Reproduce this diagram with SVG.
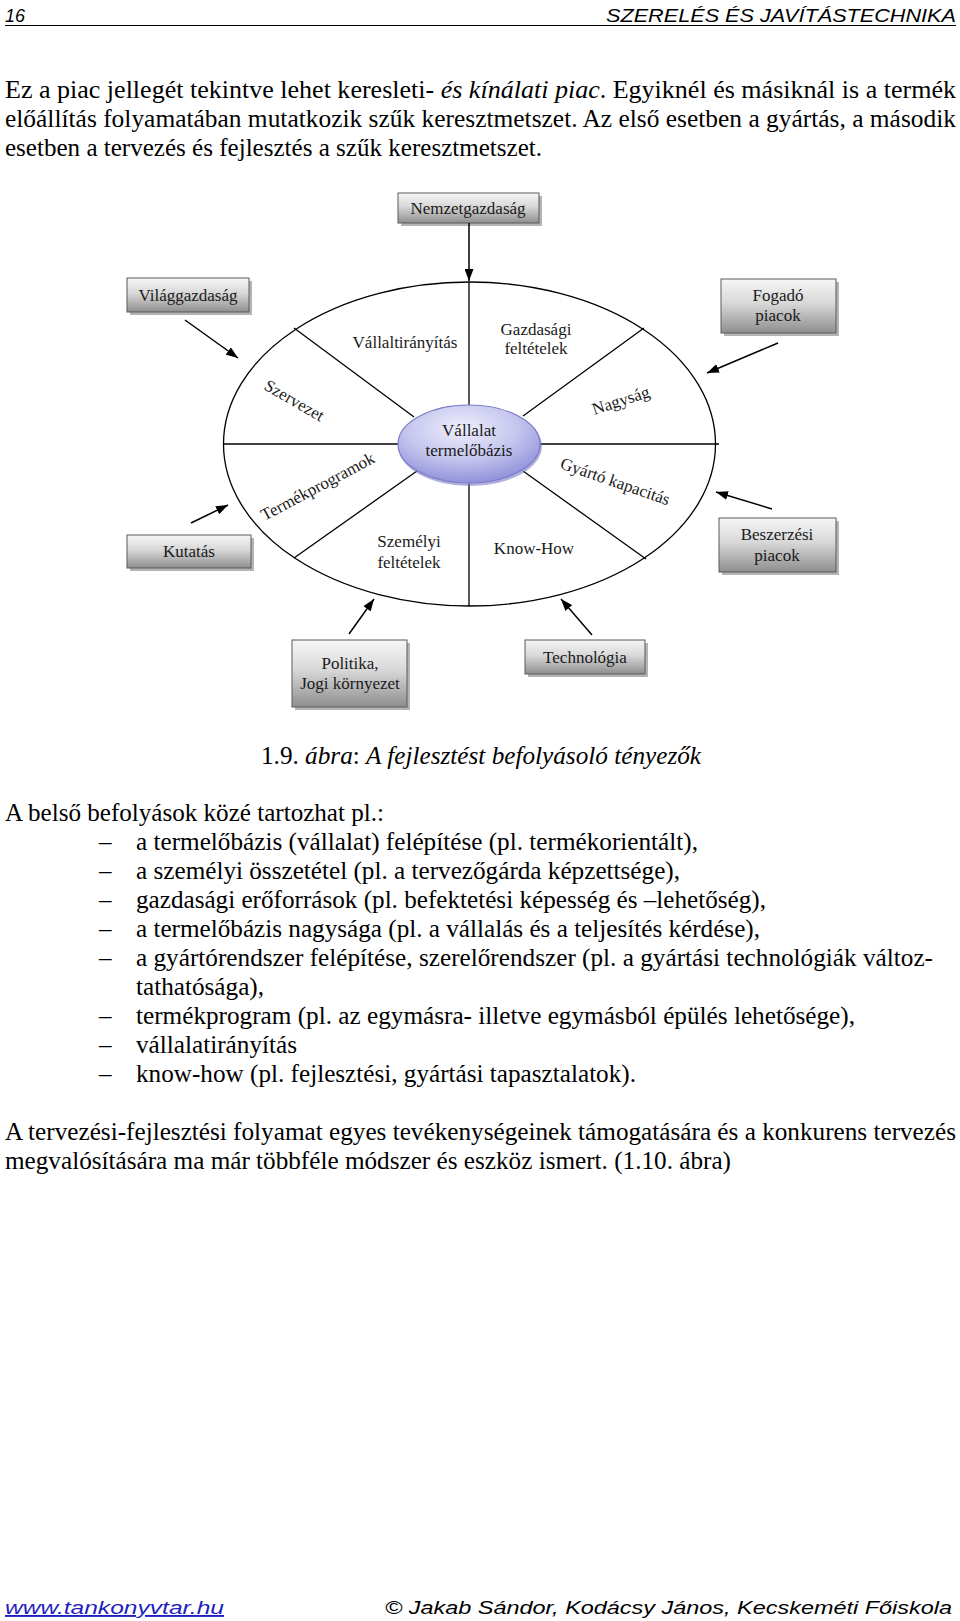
<svg xmlns="http://www.w3.org/2000/svg" width="960" height="1621" viewBox="0 0 960 1621">
<style>
.hdr{font-family:"Liberation Sans",Arial,sans-serif;font-style:italic;font-size:18px;fill:#000}
.body{font-family:"Liberation Serif","Times New Roman",serif;font-size:25px;fill:#000}
.it{font-style:italic}
.lbl{font-family:"Liberation Serif","Times New Roman",serif;font-size:17px;fill:#1a1a1a;text-anchor:middle}
.box{fill:url(#boxg);stroke:#5a5a5a;stroke-width:1}
.shd{fill:#b4b4b4}
.ln{stroke:#000;stroke-width:1.3;fill:none}
.arr{stroke:#000;stroke-width:1.5;fill:none;marker-end:url(#ah)}
.foot{font-family:"Liberation Sans",Arial,sans-serif;font-style:italic;font-size:19px}
</style>
<defs>
<linearGradient id="boxg" x1="0" y1="0" x2="0" y2="1">
<stop offset="0" stop-color="#f6f6f6"/>
<stop offset="0.45" stop-color="#d8d8d8"/>
<stop offset="1" stop-color="#8e8e8e"/>
</linearGradient>
<radialGradient id="cg" cx="0.45" cy="0.3" r="0.8">
<stop offset="0" stop-color="#eeeefc"/>
<stop offset="0.5" stop-color="#c4c4ee"/>
<stop offset="1" stop-color="#8080d4"/>
</radialGradient>
<marker id="ah" viewBox="0 0 12 9" markerWidth="12" markerHeight="9" refX="12" refY="4.5" orient="auto" markerUnits="userSpaceOnUse">
<path d="M0,0 L12,4.5 L0,9 z" fill="#000"/>
</marker>
</defs>
<rect width="960" height="1621" fill="#fff"/>

<g id="header">
<text class="hdr" x="5" y="22">16</text>
<text class="hdr" x="956" y="22" text-anchor="end" textLength="350" lengthAdjust="spacingAndGlyphs">SZERELÉS ÉS JAVÍTÁSTECHNIKA</text>
<line x1="5" y1="25.5" x2="956" y2="25.5" stroke="#000" stroke-width="1"/>
</g>

<g id="para1" class="body">
<text x="5" y="98" textLength="951" lengthAdjust="spacingAndGlyphs">Ez a piac jellegét tekintve lehet keresleti- <tspan class="it">és kínálati piac</tspan>. Egyiknél és másiknál is a termék</text>
<text x="5" y="127" textLength="951" lengthAdjust="spacingAndGlyphs">előállítás folyamatában mutatkozik szűk keresztmetszet. Az első esetben a gyártás, a második</text>
<text x="5" y="156" textLength="537" lengthAdjust="spacingAndGlyphs">esetben a tervezés és fejlesztés a szűk keresztmetszet.</text>
</g>

<g id="wheel">
<ellipse cx="469.5" cy="444" rx="246" ry="162" class="ln"/>
<line class="ln" x1="469" y1="282" x2="469" y2="405"/>
<line class="ln" x1="469" y1="483" x2="469" y2="606"/>
<line class="ln" x1="223" y1="444" x2="398" y2="444"/>
<line class="ln" x1="540" y1="444" x2="719" y2="444"/>
<line class="ln" x1="294" y1="328" x2="414" y2="417"/>
<line class="ln" x1="644" y1="328" x2="523" y2="416"/>
<line class="ln" x1="294" y1="558" x2="417" y2="471"/>
<line class="ln" x1="646" y1="559" x2="523" y2="471"/>
<text class="lbl" x="405" y="348">Vállaltirányítás</text>
<text class="lbl" x="536" y="335">Gazdasági</text>
<text class="lbl" x="536" y="354">feltételek</text>
<text class="lbl" transform="translate(294,401) rotate(30)" y="5">Szervezet</text>
<text class="lbl" transform="translate(621,401) rotate(-18)" y="5">Nagyság</text>
<text class="lbl" transform="translate(318,487) rotate(-28)" y="5">Termékprogramok</text>
<text class="lbl" transform="translate(615,482) rotate(19)" y="5">Gyártó kapacitás</text>
<text class="lbl" x="409" y="547">Személyi</text>
<text class="lbl" x="409" y="568">feltételek</text>
<text class="lbl" x="534" y="554">Know-How</text>
</g>

<g id="center">
<ellipse cx="470" cy="446" rx="72" ry="40" fill="#7a7ac4" opacity="0.6"/>
<ellipse cx="469" cy="444" rx="71" ry="39" fill="url(#cg)" stroke="#7c7cc8" stroke-width="1.2"/>
<text class="lbl" x="469" y="436">Vállalat</text>
<text class="lbl" x="469" y="456">termelőbázis</text>
</g>

<g id="n-nemzetgazdasag">
<rect class="shd" x="401" y="196" width="141" height="30"/>
<rect class="box" x="398" y="193" width="141" height="30"/>
<text class="lbl" x="468" y="214">Nemzetgazdaság</text>
</g>
<g id="n-vilaggazdasag">
<rect class="shd" x="130" y="281" width="122" height="34"/>
<rect class="box" x="127" y="278" width="122" height="34"/>
<text class="lbl" x="188" y="301">Világgazdaság</text>
</g>
<g id="n-fogado">
<rect class="shd" x="724" y="282" width="115" height="54"/>
<rect class="box" x="721" y="279" width="115" height="54"/>
<text class="lbl" x="778" y="301">Fogadó</text>
<text class="lbl" x="778" y="321">piacok</text>
</g>
<g id="n-kutatas">
<rect class="shd" x="130" y="538" width="124" height="33"/>
<rect class="box" x="127" y="535" width="124" height="33"/>
<text class="lbl" x="189" y="557">Kutatás</text>
</g>
<g id="n-beszerzesi">
<rect class="shd" x="722" y="521" width="117" height="54"/>
<rect class="box" x="719" y="518" width="117" height="54"/>
<text class="lbl" x="777" y="540">Beszerzési</text>
<text class="lbl" x="777" y="561">piacok</text>
</g>
<g id="n-politika">
<rect class="shd" x="295" y="643" width="115" height="67"/>
<rect class="box" x="292" y="640" width="115" height="67"/>
<text class="lbl" x="350" y="669">Politika,</text>
<text class="lbl" x="350" y="689">Jogi környezet</text>
</g>
<g id="n-technologia">
<rect class="shd" x="528" y="643" width="120" height="34"/>
<rect class="box" x="525" y="640" width="120" height="34"/>
<text class="lbl" x="585" y="663">Technológia</text>
</g>

<g id="connectors">
<line class="arr" x1="469" y1="223" x2="469" y2="281"/>
<line class="arr" x1="185" y1="320" x2="238" y2="358"/>
<line class="arr" x1="778" y1="343" x2="707" y2="373"/>
<line class="arr" x1="191" y1="523" x2="228" y2="505"/>
<line class="arr" x1="772" y1="509" x2="716" y2="492"/>
<line class="arr" x1="349" y1="634" x2="374" y2="599"/>
<line class="arr" x1="592" y1="635" x2="561" y2="599"/>
</g>

<text id="caption" class="body" x="261" y="764" textLength="440" lengthAdjust="spacingAndGlyphs">1.9. <tspan class="it">ábra</tspan>: <tspan class="it">A fejlesztést befolyásoló tényezők</tspan></text>

<g id="list" class="body">
<text x="5" y="821" textLength="379" lengthAdjust="spacingAndGlyphs">A belső befolyások közé tartozhat pl.:</text>
<text x="99" y="850">–</text>
<text x="136" y="850" textLength="562" lengthAdjust="spacingAndGlyphs">a termelőbázis (vállalat) felépítése (pl. termékorientált),</text>
<text x="99" y="879">–</text>
<text x="136" y="879" textLength="544" lengthAdjust="spacingAndGlyphs">a személyi összetétel (pl. a tervezőgárda képzettsége),</text>
<text x="99" y="908">–</text>
<text x="136" y="908" textLength="630" lengthAdjust="spacingAndGlyphs">gazdasági erőforrások (pl. befektetési képesség és –lehetőség),</text>
<text x="99" y="937">–</text>
<text x="136" y="937" textLength="624" lengthAdjust="spacingAndGlyphs">a termelőbázis nagysága (pl. a vállalás és a teljesítés kérdése),</text>
<text x="99" y="966">–</text>
<text x="136" y="966" textLength="797" lengthAdjust="spacingAndGlyphs">a gyártórendszer felépítése, szerelőrendszer (pl. a gyártási technológiák változ-</text>
<text x="136" y="995" textLength="128" lengthAdjust="spacingAndGlyphs">tathatósága),</text>
<text x="99" y="1024">–</text>
<text x="136" y="1024" textLength="719" lengthAdjust="spacingAndGlyphs">termékprogram (pl. az egymásra- illetve egymásból épülés lehetősége),</text>
<text x="99" y="1053">–</text>
<text x="136" y="1053" textLength="161" lengthAdjust="spacingAndGlyphs">vállalatirányítás</text>
<text x="99" y="1082">–</text>
<text x="136" y="1082" textLength="500" lengthAdjust="spacingAndGlyphs">know-how (pl. fejlesztési, gyártási tapasztalatok).</text>
</g>

<g id="para2" class="body">
<text x="5" y="1140" textLength="951" lengthAdjust="spacingAndGlyphs">A tervezési-fejlesztési folyamat egyes tevékenységeinek támogatására és a konkurens tervezés</text>
<text x="5" y="1169" textLength="726" lengthAdjust="spacingAndGlyphs">megvalósítására ma már többféle módszer és eszköz ismert. (1.10. ábra)</text>
</g>

<g id="footer">
<text class="foot" x="5" y="1614" fill="#1f1fbf" textLength="219" lengthAdjust="spacingAndGlyphs" text-decoration="underline">www.tankonyvtar.hu</text>
<text class="foot" x="952" y="1614" fill="#000" text-anchor="end" textLength="567" lengthAdjust="spacingAndGlyphs">© Jakab Sándor, Kodácsy János, Kecskeméti Főiskola</text>
</g>
</svg>
